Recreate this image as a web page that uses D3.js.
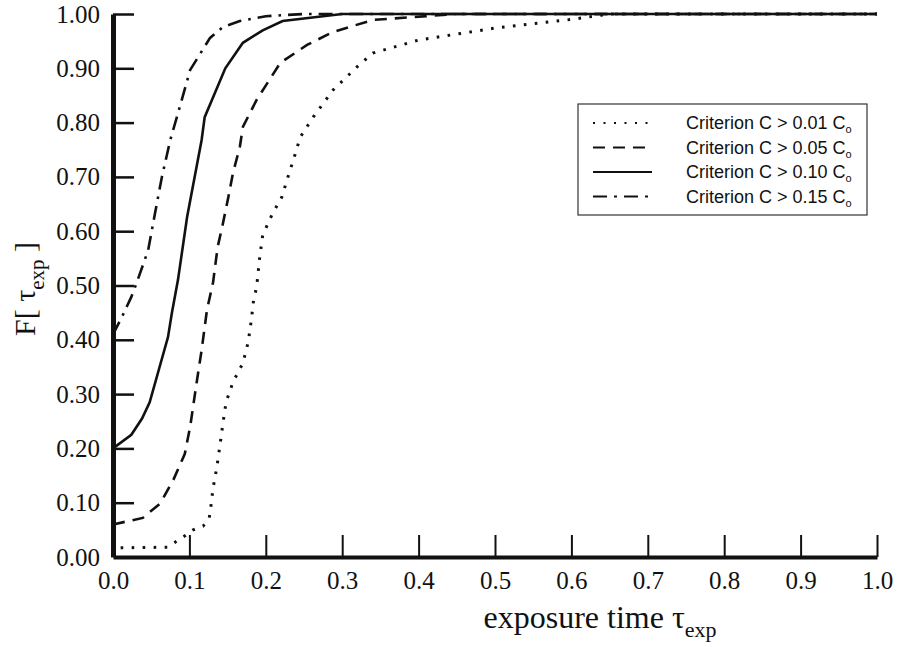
<!DOCTYPE html>
<html>
<head>
<meta charset="utf-8">
<script src="https://cdn.jsdelivr.net/npm/d3@7"></script>
<style>
  body { margin: 0; background: #fff; }
</style>
</head>
<body>
<svg id="chart"></svg>
<script>
const width = 898, height = 647;
const serif = "'Liberation Serif', 'Times New Roman', serif";
const sans = "'Liberation Sans', Arial, sans-serif";
const ink = "#111";

// tick values
const xTicks = [0, 0.1, 0.2, 0.3, 0.4, 0.5, 0.6, 0.7, 0.8, 0.9, 1.0];
const yTicks = [0, 0.1, 0.2, 0.3, 0.4, 0.5, 0.6, 0.7, 0.8, 0.9, 1.0];

// C > 0.01 Co (dotted)
const t01 = [0.01, 0.071, 0.092, 0.105, 0.118, 0.126, 0.128, 0.131, 0.136, 0.140, 0.144, 0.148, 0.157, 0.170, 0.177, 0.181, 0.184, 0.188, 0.192, 0.196, 0.208, 0.221, 0.229, 0.238, 0.245, 0.262, 0.288, 0.319, 0.34, 0.4, 0.5, 0.6, 0.65, 1.0];
const f01 = [0.017, 0.018, 0.037, 0.05, 0.057, 0.072, 0.092, 0.127, 0.166, 0.206, 0.247, 0.285, 0.322, 0.357, 0.396, 0.436, 0.473, 0.497, 0.552, 0.593, 0.630, 0.663, 0.700, 0.740, 0.773, 0.81, 0.86, 0.902, 0.928, 0.952, 0.974, 0.99, 1.0, 1.0];

// C > 0.05 Co (dashed)
const t05 = [0, 0.039, 0.062, 0.079, 0.094, 0.101, 0.110, 0.116, 0.123, 0.131, 0.137, 0.144, 0.151, 0.157, 0.166, 0.170, 0.188, 0.219, 0.254, 0.288, 0.34, 0.45, 1.0];
const f05 = [0.06, 0.072, 0.099, 0.142, 0.19, 0.24, 0.326, 0.381, 0.455, 0.506, 0.571, 0.615, 0.663, 0.707, 0.755, 0.792, 0.842, 0.91, 0.943, 0.967, 0.989, 1.0, 1.0];

// C > 0.10 Co (solid)
const t10 = [0, 0.024, 0.038, 0.048, 0.072, 0.077, 0.085, 0.097, 0.116, 0.12, 0.147, 0.17, 0.196, 0.222, 0.3, 1.0];
const f10 = [0.2, 0.225, 0.255, 0.285, 0.405, 0.449, 0.51, 0.626, 0.768, 0.81, 0.90, 0.947, 0.97, 0.987, 1.0, 1.0];

// C > 0.15 Co (dash-dot)
const t15 = [0, 0.011, 0.024, 0.031, 0.046, 0.055, 0.064, 0.075, 0.088, 0.101, 0.127, 0.144, 0.166, 0.2, 0.25, 1.0];
const f15 = [0.41, 0.44, 0.479, 0.505, 0.565, 0.633, 0.70, 0.768, 0.832, 0.897, 0.956, 0.976, 0.987, 0.996, 1.0, 1.0];

const labels = ["Criterion C > 0.01 C", "Criterion C > 0.05 C", "Criterion C > 0.10 C", "Criterion C > 0.15 C"];
const dashes = ["2.6,8.4", "12,8", null, "14,7,2.6,7"];

const series = [[t01, f01], [t05, f05], [t10, f10], [t15, f15]]
  .map(([t, f], i) => ({ pts: t.map((v, j) => [v, f[j]]), label: labels[i], dash: dashes[i] }));

const svg = d3.select("#chart")
  .attr("width", width)
  .attr("height", height)
  .style("background", "#fff");

const x = d3.scaleLinear().domain([0, 1]).range([113, 877]);
const y = d3.scaleLinear().domain([0, 1]).range([557, 14]);

////////////////////////////////////
//             Axes               //
////////////////////////////////////

const xAxis = svg.append("g")
  .attr("transform", `translate(0,${y(0)})`)
  .call(d3.axisBottom(x).tickValues(xTicks).tickFormat(d3.format(".1f"))
    .tickSize(-22).tickSizeOuter(0).tickPadding(14));
xAxis.select(".domain").attr("stroke", ink).attr("stroke-width", 4);
xAxis.selectAll(".tick line").attr("stroke", ink).attr("stroke-width", 2)
  .filter(d => d === 0).remove();
xAxis.selectAll(".tick text")
  .attr("font-family", serif).attr("font-size", 25).attr("fill", ink);

const yAxis = svg.append("g")
  .attr("transform", `translate(${x(0)},0)`)
  .call(d3.axisLeft(y).tickValues(yTicks).tickFormat(d3.format(".2f"))
    .tickSize(-21).tickSizeOuter(0).tickPadding(13));
yAxis.select(".domain").attr("stroke", ink).attr("stroke-width", 5);
yAxis.selectAll(".tick line").attr("stroke", ink).attr("stroke-width", 2.5)
  .filter(d => d === 0).remove();
yAxis.selectAll(".tick text")
  .attr("font-family", serif).attr("font-size", 25).attr("fill", ink);

////////////////////////////////////
//            Curves              //
////////////////////////////////////

const line = d3.line().x(d => x(d[0])).y(d => y(d[1]));

svg.selectAll("path.curve")
  .data(series)
  .enter()
  .append("path")
  .attr("class", "curve")
  .attr("d", d => line(d.pts))
  .attr("fill", "none")
  .attr("stroke", ink)
  .attr("stroke-width", d => d.dash === dashes[0] ? 3 : 2.6)
  .attr("stroke-dasharray", d => d.dash);

////////////////////////////////////
//            Legend              //
////////////////////////////////////

const legend = svg.append("g");
legend.append("rect")
  .attr("x", 578).attr("y", 104)
  .attr("width", 289).attr("height", 111)
  .attr("fill", "#fff")
  .attr("stroke", "#333")
  .attr("stroke-width", 1.2);

const rows = legend.selectAll("g.row")
  .data(series)
  .enter()
  .append("g")
  .attr("class", "row")
  .attr("transform", (d, i) => `translate(0,${123 + i * 24.5})`);

rows.append("line")
  .attr("x1", 593).attr("x2", 652)
  .attr("stroke", ink)
  .attr("stroke-width", 2.2)
  .attr("stroke-dasharray", (d, i) => ["2,8.5", "12,8", null, "14,7,3,7"][i]);

const lt = rows.append("text")
  .attr("x", 686).attr("y", 6)
  .attr("font-family", sans)
  .attr("font-size", 18)
  .attr("fill", ink)
  .text(d => d.label);
lt.append("tspan").attr("dy", 4).attr("font-size", 11).text("o");

////////////////////////////////////
//          Axis titles           //
////////////////////////////////////

const xt = svg.append("text")
  .attr("x", 600).attr("y", 628)
  .attr("text-anchor", "middle")
  .attr("font-family", serif)
  .attr("font-size", 32)
  .attr("fill", ink)
  .text("exposure time \u03c4");
xt.append("tspan").attr("dy", 9).attr("font-size", 22).text("exp");

const yt = svg.append("text")
  .attr("transform", "translate(35,289) rotate(-90)")
  .attr("text-anchor", "middle")
  .attr("font-family", serif)
  .attr("font-size", 30)
  .attr("fill", ink)
  .text("F[ \u03c4");
yt.append("tspan").attr("dy", 9).attr("font-size", 21).text("exp");
yt.append("tspan").attr("dy", -9).text(" ]");
</script>
</body>
</html>
